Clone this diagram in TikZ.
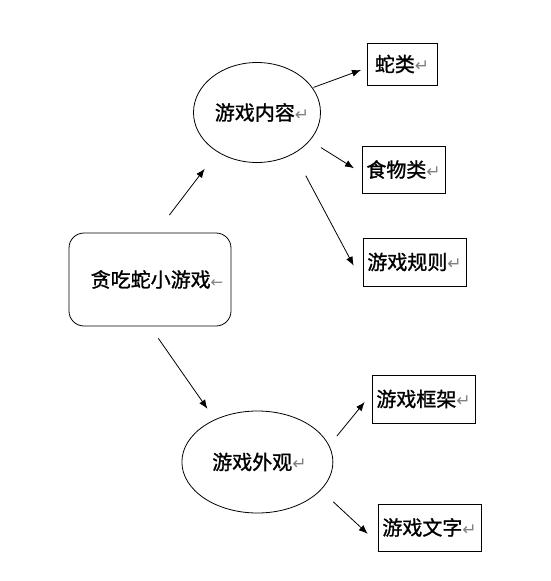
\documentclass[tikz,border=0pt]{standalone}
\usepackage{fontspec}
\newfontfamily\cjk{Noto Sans CJK SC}[FakeBold=1.2]
\newfontfamily\retfont{DejaVu Sans}
\usetikzlibrary{arrows.meta, shapes.geometric}
\newcommand{\pmark}{{\retfont\fontsize{17}{18}\selectfont\textcolor{gray}{↵}}}
\newcommand{\lmark}{{\retfont\fontsize{15}{18}\selectfont\textcolor{gray}{←}}}

\begin{document}
\begin{tikzpicture}[x=1pt, y=-1pt, line width=0.8pt, >={Latex[length=9pt,width=7pt]},
  every node/.style = {font=\cjk\fontsize{20}{22}\selectfont, inner sep=0pt},
  main/.style = {draw, ellipse, inner xsep=-16pt},
  leaf/.style = {draw, rectangle},
  head/.style = {draw, rectangle, rounded corners=15pt}]
        \useasboundingbox (0,0) rectangle (550,581);
        \node[head, minimum width=162pt, minimum height=93pt] (1) at (150,279.5) {\hspace{14pt}贪吃蛇小游戏\lmark};
        \node[main, minimum width=127pt, minimum height=100pt] (2) at (257,112.5) {\hspace{10pt}游戏内容\pmark};
        \node[main, minimum width=151pt, minimum height=102pt] (3) at (257.4,462) {\hspace{4pt}游戏外观\pmark};
        \node[leaf, minimum width=70pt, minimum height=42pt] (4) at (402,64) {蛇类\pmark};
        \node[leaf, minimum width=83pt, minimum height=47pt] (5) at (403.5,169.5) {食物类\pmark};
        \node[leaf, minimum width=103pt, minimum height=48pt] (6) at (414.5,262) {游戏规则\pmark};
        \node[leaf, minimum width=103pt, minimum height=48pt] (7) at (423.5,399) {游戏框架\pmark};
        \node[leaf, minimum width=103pt, minimum height=47pt] (8) at (429.5,527.5) {游戏文字\pmark};
        \draw[->, shorten <=22pt, shorten >=21pt] ([xshift=6pt]1.north) -- (2.225);
        \draw[->, shorten <=14.5pt, shorten >=13pt] (1.south) -- (3.135);
        \draw[->, shorten <=1pt, shorten >=6pt] (2.24) -- ([yshift=-4pt]4.west);
        \draw[->, shorten <=13pt, shorten >=9pt] (2.-28) -- ([yshift=-3.5pt]5.west);
        \draw[->, shorten <=25pt, shorten >=19pt] (2.-48) -- ([yshift=-20.5pt]6.west);
        \draw[->, shorten <=12pt, shorten >=11pt] (3.13) -- ([yshift=5.5pt]7.west);
        \draw[->, shorten <=17pt, shorten >=13.5pt] (3.-24) -- ([yshift=-15.5pt]8.west);
\end{tikzpicture}
\end{document}
